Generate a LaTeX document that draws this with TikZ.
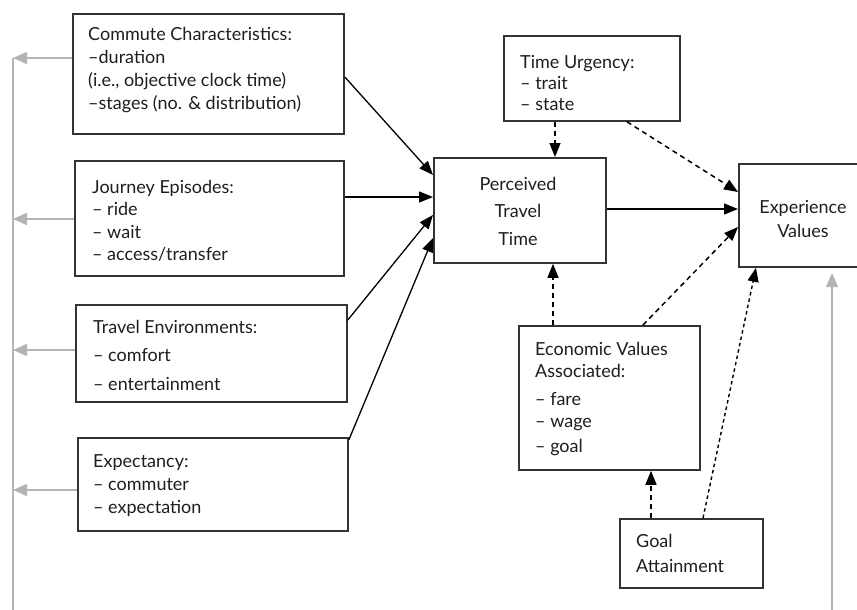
\documentclass[tikz,border=0pt]{standalone}
\usepackage{fontspec}
\setmainfont{Lato}
\usetikzlibrary{arrows.meta,calc}
\definecolor{boxc}{HTML}{333333}
\definecolor{txtc}{HTML}{1E1E1E}
\definecolor{greyc}{HTML}{B4B4B4}
\newcommand{\fl}{\rule{0pt}{16pt}}
\newcommand{\fsz}[1]{\fontsize{18}{#1}\selectfont}
\tikzset{
  box/.style={draw=boxc, line width=1.8pt, inner sep=0pt, anchor=north west},
  txt/.style={inner sep=0pt, anchor=north west, align=left, text=txtc, font=\fsz{23}},
  ctxt/.style={txt, anchor=north, align=center},
  arr/.style={draw=black, line width=1.3pt, -{Triangle[length=14pt,width=11pt]}},
  darr/.style={arr, line width=1.5pt, dash pattern=on 5pt off 4pt},
  farr/.style={arr, line width=1.4pt, dash pattern=on 3.5pt off 3pt},
  garr/.style={draw=greyc, line width=1.5pt, -{Triangle[length=14pt,width=12pt]}},
}
\begin{document}
\begin{tikzpicture}[x=1pt,y=-1pt]
\useasboundingbox (0,0) rectangle (857,610);
% boxes
\node[box, minimum width=271pt, minimum height=120pt] (cc) at (72,13) {};
\node[box, minimum width=269pt, minimum height=115pt] (je) at (74,160) {};
\node[box, minimum width=271pt, minimum height=97pt] (te) at (75,304) {};
\node[box, minimum width=270pt, minimum height=93pt] (ex) at (77,437) {};
\node[box, minimum width=176pt, minimum height=85pt] (tu) at (503,35) {};
\node[box, minimum width=172pt, minimum height=105pt] (pt) at (433,157) {};
\node[box, minimum width=140pt, minimum height=103pt] (ev) at (738,163) {};
\node[box, minimum width=181pt, minimum height=144pt] (eco) at (518,325) {};
\node[box, minimum width=143pt, minimum height=69pt] (ga) at (619,518) {};
% texts
\node[txt] (cct) at (88,24) {\fl Commute Characteristics:\\–duration\\(i.e., objective clock time)\\–stages (no. \& distribution)};
\node[txt, font=\fsz{22.5}] (jet) at (92,177) {\fl Journey Episodes:\\– ride\\– wait\\– access/transfer};
\node[txt, font=\fsz{28.5}] (tet) at (93,317) {\fl Travel Environments:\\– comfort\\– entertainment};
\node[txt, font=\fsz{23}] (ext) at (93,451) {\fl Expectancy:\\– commuter\\– expectation};
\node[txt, font=\fsz{21}] (tut) at (520,52) {\fl Time Urgency:\\– trait\\– state};
\node[ctxt, font=\fsz{27.5}] (ptt) at (518,174) {\fl Perceived\\Travel\\Time};
\node[ctxt, font=\fsz{24}] (evt) at (803,197) {\fl Experience\\Values};
\node[txt, font=\fsz{22}] (ecot) at (535,339) {\fl Economic Values\\Associated:\\[6pt]– fare\\– wage\\[3pt]– goal};
\node[txt, font=\fsz{25}] (gat) at (636,531) {\fl Goal\\Attainment};
% solid connectors
\draw[arr] (cc.east |- 0,77) -- (pt.west |- 0,175);
\draw[arr] (je.east |- 0,197) -- (pt.west |- 0,197);
\draw[arr] (te.east |- 0,320) -- (pt.west |- 0,215);
\draw[arr] (ex.east |- 0,440) -- (pt.west |- 0,238);
\draw[arr] (pt.east |- 0,209) -- (ev.west |- 0,209);
% dashed connectors
\draw[darr] (tu.south -| 555,0) -- (pt.north -| 555,0);
\draw[darr] (tu.south -| 627,0) -- (ev.west |- 0,192);
\draw[darr] (eco.north -| 553,0) -- (pt.south -| 553,0);
\draw[darr] (eco.north -| 643,0) -- (ev.west |- 0,227);
\draw[darr] (ga.north -| 651,0) -- (eco.south -| 651,0);
\draw[farr] (ga.north -| 703,0) -- (ev.south -| 756,0);
% grey feedback lines
\coordinate (lt) at (13,58);
\coordinate (lb) at (13,615);
\coordinate (l2) at (13,219);
\coordinate (l3) at (13,350);
\coordinate (l4) at (13,490);
\draw[greyc, line width=1.5pt] (lt) -- (lb);
\draw[garr] (cc.west |- lt) -- (lt);
\draw[garr] (je.west |- l2) -- (l2);
\draw[garr] (te.west |- l3) -- (l3);
\draw[garr] (ex.west |- l4) -- (l4);
\coordinate (rb) at (832,615);
\coordinate (rt) at (832,273);
\draw[garr] (rb) -- (rt);
\end{tikzpicture}
\end{document}
